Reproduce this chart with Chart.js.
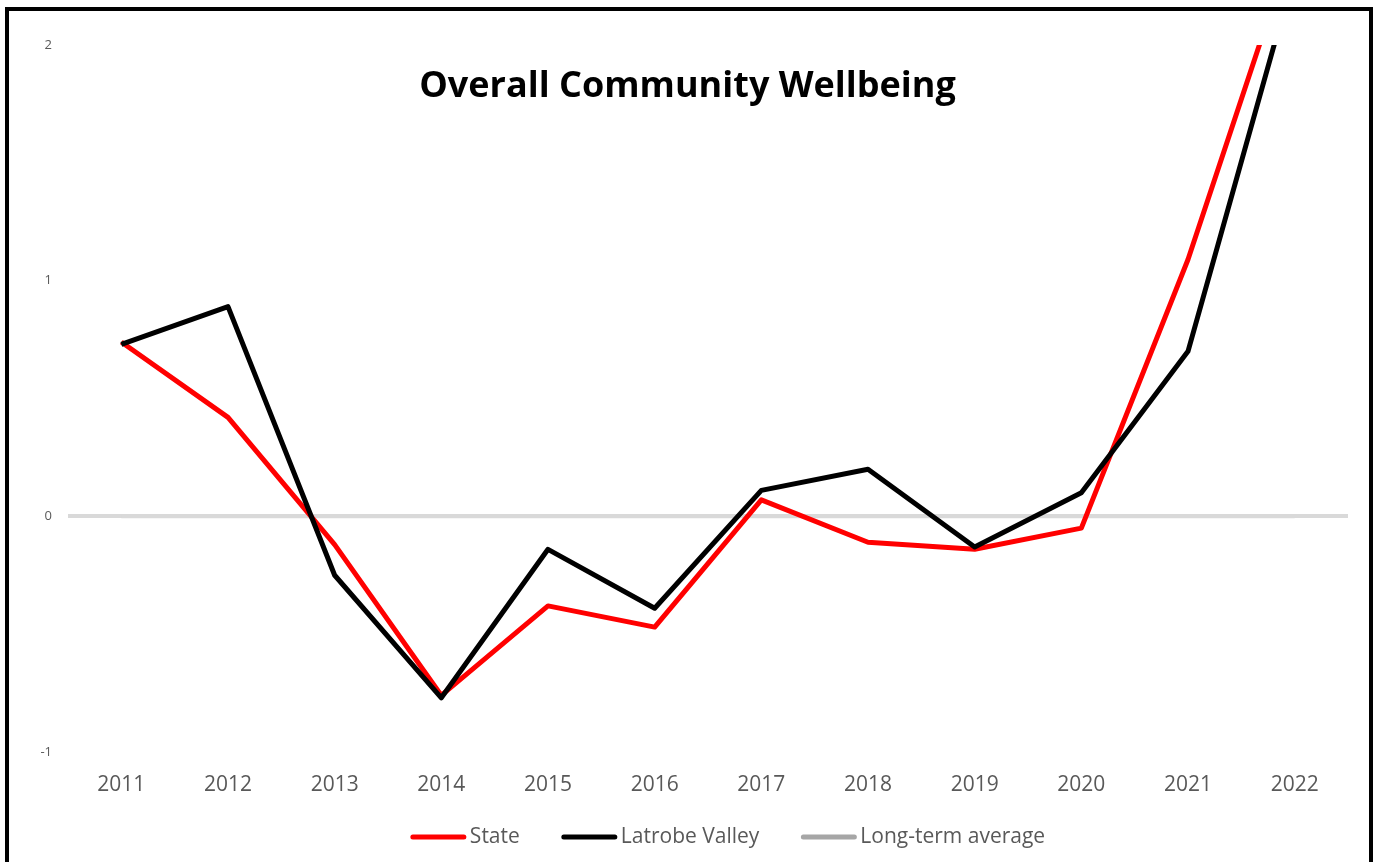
<!DOCTYPE html>
<html>
<head>
<meta charset="utf-8">
<title>Overall Community Wellbeing</title>
<script src="https://cdn.jsdelivr.net/npm/chart.js@4.4.1/dist/chart.umd.min.js"></script>
<style>
  html, body { margin: 0; padding: 0; background: #fff; overflow: hidden; }
  #wrap { position: absolute; left: 0; top: 0; width: 1375px; height: 862px; }
  #frame { position: absolute; left: 5px; top: 7px; width: 1360px; height: 900px; border: 4px solid #000; pointer-events: none; }
</style>
</head>
<body>
<div id="wrap"><canvas id="chartWellbeing" width="1375" height="862"></canvas></div>
<div id="frame"></div>
<script>
/* ===== data ===== */
const TITLE = "Overall Community Wellbeing";
const YEARS = ["2011", "2012", "2013", "2014", "2015", "2016", "2017", "2018", "2019", "2020", "2021", "2022"];
const STATE = [0.74, 0.42, -0.12, -0.76, -0.38, -0.47, 0.07, -0.11, -0.14, -0.05, 1.09, 2.45];
const LATROBE = [0.73, 0.89, -0.25, -0.77, -0.14, -0.39, 0.11, 0.20, -0.13, 0.10, 0.70, 2.31];
const LONG_TERM = [0, 0, 0, 0, 0, 0, 0, 0, 0, 0, 0, 0];
const Y_MIN = -1;
const Y_MAX = 2;
const Y_STEP = 1;

/* ===== legend entries (draw order of the legend row) ===== */
const LEGEND = [
    { text: "State", color: "#ff0000" },
    { text: "Latrobe Valley", color: "#000000" },
    { text: "Long-term average", color: "#a6a6a6" }
];

const GREY_TEXT = "#595959";
const FONT = '"Open Sans", "Noto Sans", sans-serif';

// title and legend sit on top of the plot, the way the spreadsheet drew them
const overlayText = {
    id: "overlayText",
    afterDraw(chart) {
        const ctx = chart.ctx;
        ctx.save();

        ctx.font = "bold 36px " + FONT;
        ctx.fillStyle = "#000";
        ctx.textAlign = "center";
        ctx.textBaseline = "middle";
        ctx.fillText(TITLE, chart.width / 2, 87);

        ctx.font = "21px " + FONT;
        ctx.textAlign = "left";
        const swatch = 55, gap = 4, spacing = 42, y = 837;
        let total = 0;
        LEGEND.forEach(function(item, i) {
            total += swatch + gap + ctx.measureText(item.text).width;
            if (i > 0) total += spacing;
        });
        let x = 728 - total / 2;
        LEGEND.forEach(function(item) {
            ctx.strokeStyle = item.color;
            ctx.lineWidth = 5;
            ctx.lineCap = "round";
            ctx.beginPath();
            ctx.moveTo(x + 2, y);
            ctx.lineTo(x + swatch - 2, y);
            ctx.stroke();
            ctx.fillStyle = GREY_TEXT;
            ctx.fillText(item.text, x + swatch + gap, y);
            x += swatch + gap + ctx.measureText(item.text).width + spacing;
        });

        ctx.restore();
    }
};

const ctx = document.getElementById("chartWellbeing").getContext("2d");
const chartWellbeing = new Chart(ctx, {
    type: "line",
    data: {
        labels: YEARS,
        datasets: [
            {
                label: "State",
                data: STATE,
                borderColor: "#ff0000",
                borderWidth: 5,
                order: 1
            },
            {
                label: "Latrobe Valley",
                data: LATROBE,
                borderColor: "#000000",
                borderWidth: 5,
                order: 0
            },
            {
                label: "Long-term average",
                data: LONG_TERM,
                borderColor: "#d9d9d9",
                borderWidth: 4,
                order: 2
            }
        ]
    },
    options: {
        responsive: false,
        animation: false,
        devicePixelRatio: 1,
        layout: { padding: { top: 45, right: 27, left: 0, bottom: 0 } },
        elements: {
            point: { radius: 0, hoverRadius: 0 },
            line: { tension: 0, borderJoinStyle: "round", borderCapStyle: "butt" }
        },
        datasets: { line: { clip: 0 } },
        plugins: {
            legend: { display: false },
            title: { display: false },
            tooltip: { enabled: false }
        },
        scales: {
            x: {
                offset: true,
                grid: { display: false, drawTicks: false },
                border: { display: false },
                ticks: {
                    color: GREY_TEXT,
                    font: { family: FONT, size: 21 },
                    padding: 20,
                    maxRotation: 0
                },
                afterFit: function(scale) { scale.height = 110; }
            },
            y: {
                min: Y_MIN,
                max: Y_MAX,
                ticks: {
                    stepSize: Y_STEP,
                    color: GREY_TEXT,
                    font: { family: FONT, size: 13 },
                    padding: 16
                },
                grid: {
                    drawTicks: false,
                    color: function(c) { return c.tick && c.tick.value === 0 ? "#d9d9d9" : "rgba(0,0,0,0)"; },
                    lineWidth: 4
                },
                border: { display: false },
                afterFit: function(scale) { scale.width = 68; }
            }
        }
    },
    plugins: [overlayText]
});
</script>
</body>
</html>
